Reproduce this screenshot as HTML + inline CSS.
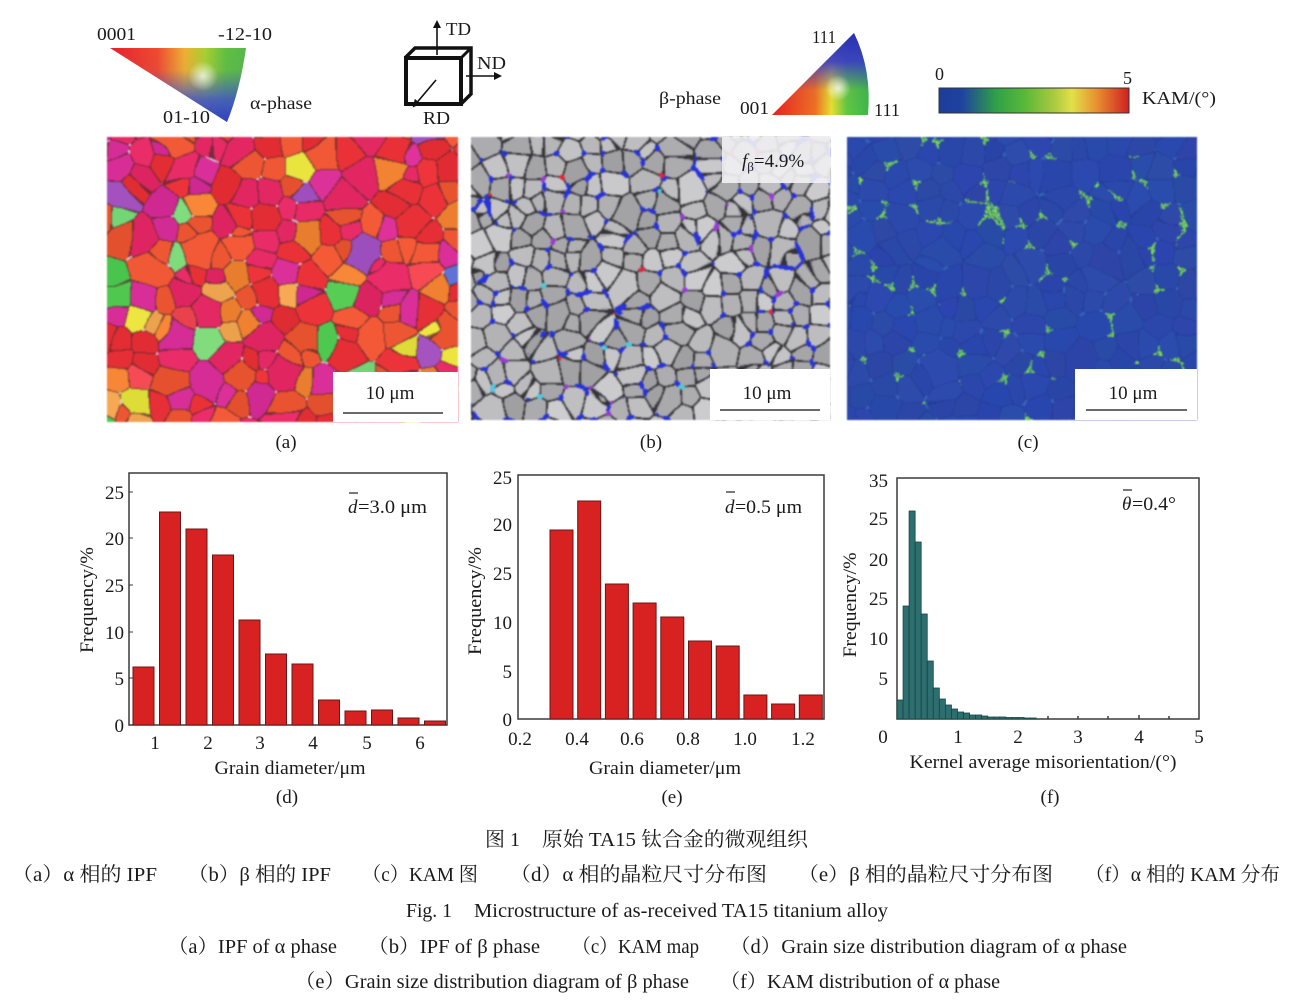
<!DOCTYPE html>
<html><head><meta charset="utf-8">
<style>
html,body{margin:0;padding:0;background:#fff;}
#wrap{position:relative;width:1293px;height:1005px;background:#fff;overflow:hidden;}
canvas{position:absolute;filter:blur(0.7px);}
svg{position:absolute;left:0;top:0;}
text{font-family:"Liberation Serif","Noto Serif CJK SC",serif;fill:#1a1a1a;}
.cn{font-family:"Liberation Serif","Noto Serif CJK SC","Noto Sans CJK SC",serif;}
</style></head>
<body><div id="wrap">
<canvas id="ca" width="351" height="285" style="left:107px;top:137px;background:#e2404e"></canvas>
<canvas id="cb" width="359" height="283" style="left:471px;top:137px;background:#a8a8a8"></canvas>
<canvas id="cc" width="350" height="283" style="left:847px;top:137px;background:#2a48a8"></canvas>
<svg width="1293" height="1005" viewBox="0 0 1293 1005" xmlns="http://www.w3.org/2000/svg">
<defs>
<linearGradient id="aH" gradientUnits="userSpaceOnUse" x1="110" y1="0" x2="246" y2="0">
<stop offset="0" stop-color="#e8202a"/><stop offset="0.35" stop-color="#f04a30"/><stop offset="0.55" stop-color="#f0b030"/><stop offset="0.7" stop-color="#a8d030"/><stop offset="0.85" stop-color="#60c040"/><stop offset="1" stop-color="#58b848"/>
</linearGradient>
<linearGradient id="aV" gradientUnits="userSpaceOnUse" x1="0" y1="48" x2="0" y2="122">
<stop offset="0" stop-color="#4050c8" stop-opacity="0"/><stop offset="0.3" stop-color="#4050c8" stop-opacity="0.05"/><stop offset="0.7" stop-color="#4050c8" stop-opacity="0.85"/><stop offset="1" stop-color="#3040c0" stop-opacity="1"/>
</linearGradient>
<radialGradient id="aW" gradientUnits="userSpaceOnUse" cx="203" cy="76" r="15">
<stop offset="0" stop-color="#fff" stop-opacity="0.75"/><stop offset="1" stop-color="#fff" stop-opacity="0"/>
</radialGradient>
<linearGradient id="bH" gradientUnits="userSpaceOnUse" x1="772" y1="0" x2="868" y2="0">
<stop offset="0" stop-color="#e82020"/><stop offset="0.45" stop-color="#f07020"/><stop offset="0.62" stop-color="#e8e030"/><stop offset="0.78" stop-color="#60c840"/><stop offset="1" stop-color="#40b848"/>
</linearGradient>
<linearGradient id="bV" gradientUnits="userSpaceOnUse" x1="0" y1="115" x2="0" y2="33">
<stop offset="0" stop-color="#3838c8" stop-opacity="0"/><stop offset="0.3" stop-color="#3838c8" stop-opacity="0.05"/><stop offset="0.65" stop-color="#3838c8" stop-opacity="0.9"/><stop offset="1" stop-color="#2830b0" stop-opacity="1"/>
</linearGradient>
<radialGradient id="bW" gradientUnits="userSpaceOnUse" cx="838" cy="88" r="13">
<stop offset="0" stop-color="#fff" stop-opacity="0.75"/><stop offset="1" stop-color="#fff" stop-opacity="0"/>
</radialGradient>
<linearGradient id="kam" x1="0" y1="0" x2="1" y2="0">
<stop offset="0" stop-color="#1e3c9a"/><stop offset="0.12" stop-color="#1e42a0"/><stop offset="0.3" stop-color="#30a048"/><stop offset="0.45" stop-color="#58b838"/><stop offset="0.6" stop-color="#a8c840"/><stop offset="0.7" stop-color="#e2e048"/><stop offset="0.83" stop-color="#e89030"/><stop offset="1" stop-color="#d02020"/>
</linearGradient>
<marker id="ah" markerWidth="8" markerHeight="8" refX="6" refY="4" orient="auto" markerUnits="userSpaceOnUse"><path d="M0,0 L8,4 L0,8 Z" fill="#111"/></marker>
</defs>

<!-- alpha IPF legend -->
<text x="97" y="40" font-size="18" textLength="39" lengthAdjust="spacingAndGlyphs">0001</text>
<text x="218" y="40" font-size="18" textLength="54" lengthAdjust="spacingAndGlyphs">-12-10</text>
<path d="M110,48 L246,48 Q240,90 227,122 Z" fill="url(#aH)"/>
<path d="M110,48 L246,48 Q240,90 227,122 Z" fill="url(#aV)"/>
<path d="M110,48 L246,48 Q240,90 227,122 Z" fill="url(#aW)"/>
<text x="163" y="123" font-size="18" textLength="47" lengthAdjust="spacingAndGlyphs">01-10</text>
<text x="250" y="109" font-size="18" textLength="62" lengthAdjust="spacingAndGlyphs">α-phase</text>

<!-- cube -->
<line x1="437" y1="55" x2="437" y2="22" stroke="#111" stroke-width="1.6" marker-end="url(#ah)"/>
<text x="446" y="35" font-size="18" textLength="25" lengthAdjust="spacingAndGlyphs">TD</text>
<path d="M405,58 L415,48 L471,48 L471,94 L461,104" fill="none" stroke="#111" stroke-width="3.5" stroke-linejoin="miter"/>
<line x1="461" y1="58" x2="471" y2="48" stroke="#111" stroke-width="3"/>
<rect x="406" y="58" width="55" height="46" fill="#fff" stroke="#111" stroke-width="4"/>
<line x1="466" y1="76" x2="500" y2="76" stroke="#111" stroke-width="1.6" marker-end="url(#ah)"/>
<text x="477" y="69" font-size="18" textLength="29" lengthAdjust="spacingAndGlyphs">ND</text>
<line x1="436" y1="80" x2="414" y2="106" stroke="#111" stroke-width="1.6" marker-end="url(#ah)"/>
<text x="423" y="124" font-size="18" textLength="27" lengthAdjust="spacingAndGlyphs">RD</text>

<!-- beta IPF legend -->
<text x="812" y="43" font-size="18" textLength="24" lengthAdjust="spacingAndGlyphs">111</text>
<path d="M772,115 L868,115 Q872,70 854,33 Z" fill="url(#bH)"/>
<path d="M772,115 L868,115 Q872,70 854,33 Z" fill="url(#bV)"/>
<path d="M772,115 L868,115 Q872,70 854,33 Z" fill="url(#bW)"/>
<text x="659" y="104" font-size="18" textLength="62" lengthAdjust="spacingAndGlyphs">β-phase</text>
<text x="740" y="114" font-size="18" textLength="29" lengthAdjust="spacingAndGlyphs">001</text>
<text x="874" y="116" font-size="18" textLength="26" lengthAdjust="spacingAndGlyphs">111</text>

<!-- KAM colorbar -->
<rect x="939" y="88" width="190" height="25" fill="url(#kam)" stroke="#333" stroke-width="1"/>
<text x="935" y="80" font-size="18">0</text>
<text x="1123" y="84" font-size="18">5</text>
<text x="1142" y="104" font-size="18" textLength="74" lengthAdjust="spacingAndGlyphs">KAM/(°)</text>

<!-- scale boxes -->
<rect x="333" y="372" width="125" height="50" fill="#fff"/>
<text x="390" y="399" font-size="19" text-anchor="middle">10 μm</text>
<line x1="343" y1="413" x2="443" y2="413" stroke="#111" stroke-width="1.3"/>
<rect x="710" y="369" width="120" height="51" fill="#fff"/>
<text x="767" y="399" font-size="19" text-anchor="middle">10 μm</text>
<line x1="720" y1="410" x2="820" y2="410" stroke="#111" stroke-width="1.3"/>
<rect x="1075" y="369" width="122" height="51" fill="#fff"/>
<text x="1133" y="399" font-size="19" text-anchor="middle">10 μm</text>
<line x1="1086" y1="410" x2="1187" y2="410" stroke="#111" stroke-width="1.3"/>
<rect x="722" y="137" width="108" height="46" fill="#f2f2f4" fill-opacity="0.9"/>
<text x="742" y="167" font-size="19"><tspan font-style="italic">f</tspan><tspan font-size="13" dy="4">β</tspan><tspan dy="-4">=4.9%</tspan></text>

<text x="286" y="448" font-size="19" text-anchor="middle">(a)</text>
<text x="651" y="448" font-size="19" text-anchor="middle">(b)</text>
<text x="1028" y="448" font-size="19" text-anchor="middle">(c)</text>

<!-- Chart d -->
<g>
<rect x="129" y="473" width="318" height="252" fill="none" stroke="#3a3a3a" stroke-width="1.5"/>
<g fill="#d82222" stroke="#6a1515" stroke-width="1">
<rect x="133" y="667" width="21" height="58"/>
<rect x="159.5" y="512" width="21" height="213"/>
<rect x="186" y="529" width="21" height="196"/>
<rect x="212.5" y="555" width="21" height="170"/>
<rect x="239" y="620" width="21" height="105"/>
<rect x="265.5" y="654" width="21" height="71"/>
<rect x="292" y="664" width="21" height="61"/>
<rect x="318.5" y="700" width="21" height="25"/>
<rect x="345" y="711" width="21" height="14"/>
<rect x="371.5" y="710" width="21" height="15"/>
<rect x="398" y="718" width="21" height="7"/>
<rect x="424.5" y="721" width="21" height="4"/>
</g>
<g stroke="#3a3a3a" stroke-width="1">
<line x1="129" y1="492" x2="133" y2="492"/><line x1="129" y1="538" x2="133" y2="538"/><line x1="129" y1="585" x2="133" y2="585"/><line x1="129" y1="632" x2="133" y2="632"/><line x1="129" y1="678" x2="133" y2="678"/>
</g>
<g font-size="19" text-anchor="end">
<text x="124" y="499">25</text><text x="124" y="545">20</text><text x="124" y="592">25</text><text x="124" y="639">10</text><text x="124" y="685">5</text><text x="124" y="732">0</text>
</g>
<g font-size="19" text-anchor="middle">
<text x="155" y="749">1</text><text x="208" y="749">2</text><text x="260" y="749">3</text><text x="313" y="749">4</text><text x="367" y="749">5</text><text x="420" y="749">6</text>
</g>
<text x="290" y="774" font-size="19" text-anchor="middle" textLength="151" lengthAdjust="spacingAndGlyphs">Grain diameter/μm</text>
<text x="287" y="803" font-size="19" text-anchor="middle">(d)</text>
<text transform="translate(93,600) rotate(-90)" font-size="19" text-anchor="middle" textLength="106" lengthAdjust="spacingAndGlyphs">Frequency/%</text>
<line x1="349" y1="493" x2="358" y2="493" stroke="#222" stroke-width="1.2"/>
<text x="348" y="513" font-size="19" font-style="italic">d</text>
<text x="358" y="513" font-size="19" textLength="69" lengthAdjust="spacingAndGlyphs">=3.0 μm</text>
</g>

<!-- Chart e -->
<g>
<rect x="518" y="475" width="306" height="244" fill="none" stroke="#3a3a3a" stroke-width="1.5"/>
<g fill="#d82222" stroke="#6a1515" stroke-width="1">
<rect x="550" y="530" width="23" height="189"/>
<rect x="577.7" y="501" width="23" height="218"/>
<rect x="605.4" y="584" width="23" height="135"/>
<rect x="633.1" y="603" width="23" height="116"/>
<rect x="660.8" y="617" width="23" height="102"/>
<rect x="688.5" y="641" width="23" height="78"/>
<rect x="716.2" y="646" width="23" height="73"/>
<rect x="743.9" y="695" width="23" height="24"/>
<rect x="771.6" y="704" width="23" height="15"/>
<rect x="799.3" y="695" width="23" height="24"/>
</g>
<g font-size="19" text-anchor="end">
<text x="512" y="484">25</text><text x="512" y="531">20</text><text x="512" y="580">25</text><text x="512" y="629">10</text><text x="512" y="678">5</text><text x="512" y="726">0</text>
</g>
<g font-size="19" text-anchor="middle">
<text x="520" y="745">0.2</text><text x="577" y="745">0.4</text><text x="632" y="745">0.6</text><text x="688" y="745">0.8</text><text x="745" y="745">1.0</text><text x="803" y="745">1.2</text>
</g>
<text x="665" y="774" font-size="19" text-anchor="middle" textLength="152" lengthAdjust="spacingAndGlyphs">Grain diameter/μm</text>
<text x="672" y="803" font-size="19" text-anchor="middle">(e)</text>
<text transform="translate(481,601) rotate(-90)" font-size="19" text-anchor="middle" textLength="108" lengthAdjust="spacingAndGlyphs">Frequency/%</text>
<line x1="726" y1="492" x2="735" y2="492" stroke="#222" stroke-width="1.2"/>
<text x="725" y="513" font-size="19" font-style="italic">d</text>
<text x="735" y="513" font-size="19" textLength="67" lengthAdjust="spacingAndGlyphs">=0.5 μm</text>
</g>

<!-- Chart f -->
<g>
<rect x="897" y="478" width="302" height="241" fill="none" stroke="#3a3a3a" stroke-width="1.5"/>
<g fill="#2d6e6e" stroke="#1a4444" stroke-width="0.8">
<rect x="897" y="700" width="6.05" height="19"/>
<rect x="903.05" y="606" width="6.05" height="113"/>
<rect x="909.1" y="511" width="6.05" height="208"/>
<rect x="915.15" y="542" width="6.05" height="177"/>
<rect x="921.2" y="614" width="6.05" height="105"/>
<rect x="927.25" y="661" width="6.05" height="58"/>
<rect x="933.3" y="688" width="6.05" height="31"/>
<rect x="939.35" y="699" width="6.05" height="20"/>
<rect x="945.4" y="705" width="6.05" height="14"/>
<rect x="951.45" y="709" width="6.05" height="10"/>
<rect x="957.5" y="712" width="6.05" height="7"/>
<rect x="963.55" y="713" width="6.05" height="6"/>
<rect x="969.6" y="715" width="6.05" height="4"/>
<rect x="975.65" y="715" width="6.05" height="4"/>
<rect x="981.7" y="716" width="6.05" height="3"/>
<rect x="987.75" y="717" width="6.05" height="2"/>
<rect x="993.8" y="717" width="6.05" height="2"/>
<rect x="999.85" y="717" width="6.05" height="2"/>
<rect x="1005.9" y="717.5" width="6.05" height="1.5"/>
<rect x="1011.95" y="717.5" width="6.05" height="1.5"/>
<rect x="1018" y="717.5" width="6.05" height="1.5"/>
<rect x="1024.05" y="718" width="6.05" height="1"/>
<rect x="1030.1" y="718" width="6.05" height="1"/>
</g>
<g stroke="#3a3a3a" stroke-width="1.5">
<line x1="1048" y1="719" x2="1048" y2="716"/><line x1="1078" y1="719" x2="1078" y2="716"/><line x1="1108" y1="719" x2="1108" y2="716"/><line x1="1139" y1="719" x2="1139" y2="715"/><line x1="1169" y1="719" x2="1169" y2="716"/>
</g>
<g font-size="19" text-anchor="end">
<text x="888" y="487">35</text><text x="888" y="525">25</text><text x="888" y="566">20</text><text x="888" y="605">25</text><text x="888" y="645">10</text><text x="888" y="685">5</text>
</g>
<g font-size="19" text-anchor="middle">
<text x="883" y="743">0</text><text x="958" y="743">1</text><text x="1018" y="743">2</text><text x="1078" y="743">3</text><text x="1139" y="743">4</text><text x="1199" y="743">5</text>
</g>
<text x="1043" y="768" font-size="19" text-anchor="middle" textLength="267" lengthAdjust="spacingAndGlyphs">Kernel average misorientation/(°)</text>
<text x="1050" y="803" font-size="19" text-anchor="middle">(f)</text>
<text transform="translate(856,605) rotate(-90)" font-size="19" text-anchor="middle" textLength="105" lengthAdjust="spacingAndGlyphs">Frequency/%</text>
<line x1="1123" y1="490" x2="1132" y2="490" stroke="#222" stroke-width="1.2"/>
<text x="1122" y="510" font-size="19" font-style="italic">θ</text>
<text x="1132" y="510" font-size="19" textLength="44" lengthAdjust="spacingAndGlyphs">=0.4°</text>
</g>

<!-- captions -->
<g font-size="20" class="cn">
<text class="cn" x="485" y="846" textLength="35" lengthAdjust="spacingAndGlyphs">图 1</text>
<text class="cn" x="542" y="846" textLength="266" lengthAdjust="spacingAndGlyphs">原始 TA15 钛合金的微观组织</text>
<text class="cn" x="12" y="881" textLength="145" lengthAdjust="spacingAndGlyphs">（a）α 相的 IPF</text>
<text class="cn" x="188" y="881" textLength="143" lengthAdjust="spacingAndGlyphs">（b）β 相的 IPF</text>
<text class="cn" x="362" y="881" textLength="116" lengthAdjust="spacingAndGlyphs">（c）KAM 图</text>
<text class="cn" x="510" y="881" textLength="257" lengthAdjust="spacingAndGlyphs">（d）α 相的晶粒尺寸分布图</text>
<text class="cn" x="798" y="881" textLength="255" lengthAdjust="spacingAndGlyphs">（e）β 相的晶粒尺寸分布图</text>
<text class="cn" x="1085" y="881" textLength="195" lengthAdjust="spacingAndGlyphs">（f）α 相的 KAM 分布</text>
<text class="cn" x="406" y="917" textLength="46" lengthAdjust="spacingAndGlyphs">Fig. 1</text>
<text class="cn" x="474" y="917" textLength="414" lengthAdjust="spacingAndGlyphs">Microstructure of as-received TA15 titanium alloy</text>
<text class="cn" x="168" y="953" textLength="169" lengthAdjust="spacingAndGlyphs">（a）IPF of α phase</text>
<text class="cn" x="368" y="953" textLength="172" lengthAdjust="spacingAndGlyphs">（b）IPF of β phase</text>
<text class="cn" x="572" y="953" textLength="127" lengthAdjust="spacingAndGlyphs">（c）KAM map</text>
<text class="cn" x="730" y="953" textLength="397" lengthAdjust="spacingAndGlyphs">（d）Grain size distribution diagram of α phase</text>
<text class="cn" x="295" y="988" textLength="394" lengthAdjust="spacingAndGlyphs">（e）Grain size distribution diagram of β phase</text>
<text class="cn" x="720" y="988" textLength="280" lengthAdjust="spacingAndGlyphs">（f）KAM distribution of α phase</text>
</g>
</svg>
</div>
<script>
(function(){
function mb(a){return function(){a|=0;a=a+0x6D2B79F5|0;var t=Math.imul(a^a>>>15,1|a);t=t+Math.imul(t^t>>>7,61|t)^t;return((t^t>>>14)>>>0)/4294967296;};}
function hash3(a,b,c){var s=[a,b,c].sort(function(p,q){return p-q});var h=(Math.imul(s[0],374761393)+Math.imul(s[1],668265263)+Math.imul(s[2],1103515245))|0;h=Math.imul(h^(h>>>13),1274126177);h^=h>>>16;h=Math.imul(h^(h>>>11),2246822519);h^=h>>>15;return (h>>>0)/4294967296;}
function gen(id,seed,sp,skip,wmax,colorFn,pix){
 var cv=document.getElementById(id);if(!cv||!cv.getContext)return;
 var W=cv.width,H=cv.height,ctx=cv.getContext('2d');
 var R=mb(seed),S=[];
 for(var gy=-1;gy*sp<H+sp;gy++)for(var gx=-1;gx*sp<W+sp;gx++){
   if(R()<skip)continue;
   S.push([(gx+0.1+0.8*R())*sp,(gy+0.1+0.8*R())*sp,R()*R()*wmax,colorFn(R)]);
 }
 var n=S.length,img=ctx.createImageData(W,H),d=img.data,NR=mb(seed+7);
 for(var y=0;y<H;y++)for(var x=0;x<W;x++){
   var d1=1e9,d2=1e9,d3=1e9,i1=0,i2=0,i3=0;
   for(var k=0;k<n;k++){var s=S[k],dx=x-s[0],dy=y-s[1];
     if(dx>70||dx<-70||dy>70||dy<-70)continue;
     var dd=Math.sqrt(dx*dx+dy*dy)-s[2];
     if(dd<d1){d3=d2;i3=i2;d2=d1;i2=i1;d1=dd;i1=k;}
     else if(dd<d2){d3=d2;i3=i2;d2=dd;i2=k;}
     else if(dd<d3){d3=dd;i3=k;}
   }
   var c=pix(S,i1,i2,i3,d1,d2,d3,NR);
   var o=(y*W+x)*4;d[o]=c[0];d[o+1]=c[1];d[o+2]=c[2];d[o+3]=255;
 }
 ctx.putImageData(img,0,0);
}
function mix(a,b,t){return [a[0]*(1-t)+b[0]*t,a[1]*(1-t)+b[1]*t,a[2]*(1-t)+b[2]*t];}
// map a
var palA=[[[232,48,55],0.27],[[228,40,100],0.2],[[215,45,150],0.1],[[236,85,50],0.2],[[240,130,50],0.08],[[242,165,80],0.02],[[80,200,80],0.05],[[120,215,120],0.02],[[230,225,60],0.015],[[160,80,190],0.025],[[90,110,210],0.005],[[240,70,80],0.01]];
function pickA(R){var r=R(),acc=0;for(var i=0;i<palA.length;i++){acc+=palA[i][1];if(r<acc){var c=palA[i][0],v=(R()-0.5)*18;return [c[0]+v,c[1]+v*0.6,c[2]+v*0.6];}}return palA[0][0];}
gen('ca',11,21,0.16,10,pickA,function(S,i1,i2,i3,d1,d2,d3,NR){
  var c=S[i1][3];
  if(d3-d1<1.8 && hash3(i1,i2,i3)<0.18) return [215,205,215];
  if(d2-d1<1.0) return mix(c,[80,40,45],0.7);
  return c;
});
// map b
gen('cb',23,19,0.1,6,function(R){var g=160+R()*45;return [g,g,g+3];},function(S,i1,i2,i3,d1,d2,d3,NR){
  var c=S[i1][3],h=hash3(i1,i2,i3);
  if(d3-d1<4.5 && h<0.38){
    if(h<0.03) return [150,60,210];
    if(h<0.042) return [220,40,60];
    if(h<0.055) return [80,200,220];
    return [40,50,215];
  }
  if(d2-d1<1.4) return [50,50,55];
  if(d2-d1<2.6) return mix(c,[100,100,105],0.3);
  return c;
});
// map c
gen('cc',37,22,0.08,7,function(R){return [40+R()*6,68+R()*8,165+R()*10];},function(S,i1,i2,i3,d1,d2,d3,NR){
  var c=S[i1][3],h=hash3(i1,i2,i3);
  if(h<0.15 && ((d3-d1<4.5) || (d2-d1<1.8 && d3-d1<10)) && NR()<0.75) return [90+NR()*60,195+NR()*40,60+NR()*40];
  if(d3-d1<2.5 && h<0.3) return [55,100,185];
  if(d2-d1<0.8) return mix(c,[30,52,135],0.45);
  return c;
});
})();
</script>
</body></html>
